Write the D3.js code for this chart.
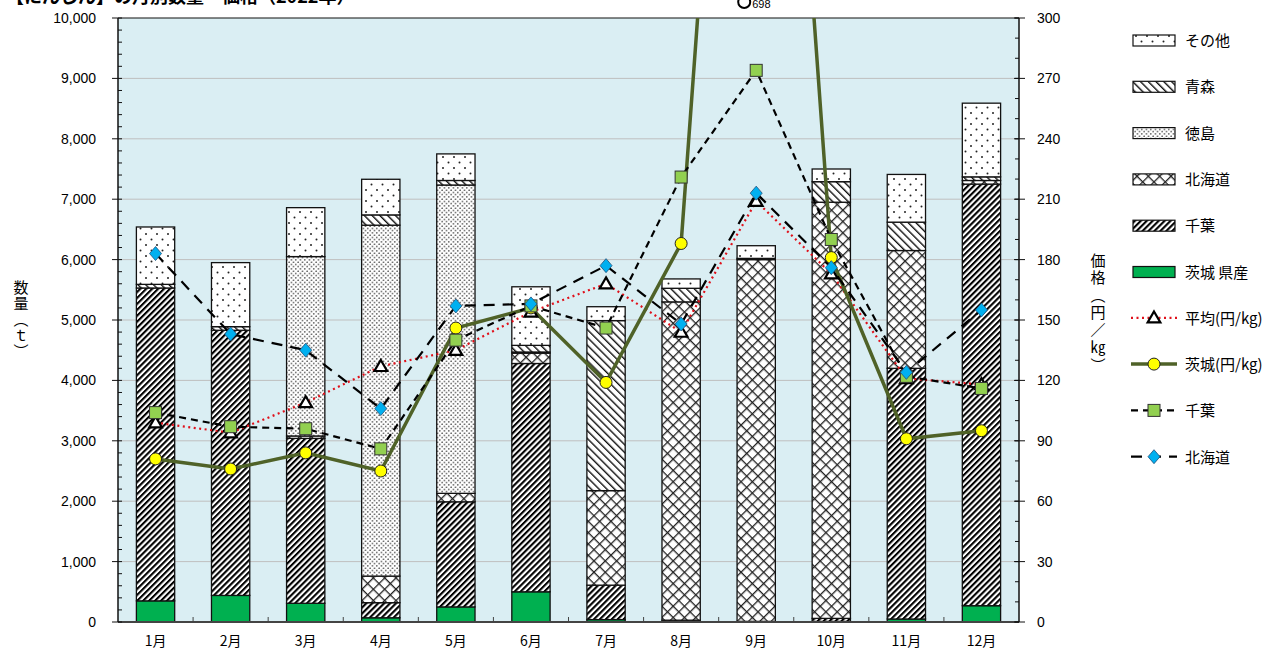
<!DOCTYPE html>
<html><head><meta charset="utf-8">
<script src="https://cdn.jsdelivr.net/npm/d3@7"></script>
<style>body{margin:0;background:#fff}svg{display:block}</style>
</head><body>
<svg id="c" width="1278" height="653"></svg>
<script>
const months = ["1月","2月","3月","4月","5月","6月","7月","8月","9月","10月","11月","12月"];
const ibarakiQty  = [350,440,310,70,250,500,40,0,0,10,50,270];
const chibaQty    = [5180,4390,2730,250,1740,3780,570,30,10,50,4150,6980];
const hokkaidoQty = [0,0,40,440,140,170,1565,5270,5990,6890,1950,60];
const tokushimaQty= [0,0,2970,5810,5105,20,0,0,0,0,0,0];
const aomoriQty   = [60,60,0,170,75,110,2815,225,20,340,470,60];
const otherQty    = [950,1060,810,590,440,970,230,155,210,210,790,1220];

const avgPrice      = [99,94,109,127,135,154,168,144,209,173,121,118];
const ibarakiPrice  = [81,76,84,75,146,156,119,188,698,181,91,95];
const chibaPrice    = [104,97,96,86,140,157,146,221,274,190,122,116];
const hokkaidoPrice = [183,143,135,106,157,158,177,148,213,176,124,155];

const leftTicks = [0,1000,2000,3000,4000,5000,6000,7000,8000,9000,10000];
const rightTicks = [0,30,60,90,120,150,180,210,240,270,300];

const svg = d3.select("#c");
const L=118,R=1019,T=18,B=622;
const x = d3.scaleBand().domain(months).range([L,R]);
const y = d3.scaleLinear().domain([0,10000]).range([B,T]);
const y2 = d3.scaleLinear().domain([0,300]).range([B,T]);
const numFont = "'Liberation Sans', Arial, sans-serif";
const jpFont = "'Noto Sans CJK JP', sans-serif";

// patterns
const defs = svg.append("defs");
function pat(id,w,h,rot,fn){
  const p = defs.append("pattern").attr("id",id).attr("patternUnits","userSpaceOnUse")
    .attr("width",w).attr("height",h);
  if(rot) p.attr("patternTransform",`rotate(${rot})`);
  p.append("rect").attr("width",w).attr("height",h).attr("fill","#fff");
  fn(p);
}
pat("pOther",11,11,0,p=>{
  p.append("circle").attr("cx",3).attr("cy",3).attr("r",1).attr("fill","#222");
  p.append("circle").attr("cx",8.5).attr("cy",8.5).attr("r",1).attr("fill","#222");
});
pat("pAomori",5.5,5.5,-45,p=>{
  p.append("rect").attr("x",0).attr("y",0).attr("width",1.4).attr("height",5.5).attr("fill","#111");
});
pat("pToku",4.5,4.5,0,p=>{
  p.append("circle").attr("cx",1.1).attr("cy",1.1).attr("r",0.75).attr("fill","#222");
  p.append("circle").attr("cx",3.35).attr("cy",3.35).attr("r",0.75).attr("fill","#222");
});
pat("pHokkaido",8,8,45,p=>{
  p.append("rect").attr("x",0).attr("y",0).attr("width",1.3).attr("height",8).attr("fill","#222");
  p.append("rect").attr("x",0).attr("y",0).attr("width",8).attr("height",1.3).attr("fill","#222");
});
pat("pChiba",4.2,4.2,45,p=>{
  p.append("rect").attr("x",0).attr("y",0).attr("width",2.1).attr("height",4.2).attr("fill","#000");
});
defs.append("clipPath").attr("id","plotClip").append("rect")
  .attr("x",L).attr("y",T).attr("width",R-L).attr("height",B-T);

// title (cut off at top)
svg.append("text").attr("x",6).attr("y",3).attr("font-family",jpFont).attr("font-size",18)
  .attr("font-weight","bold").text("【にんじん】の月別数量・価格（2022年）");

// background
svg.append("rect").attr("x",L).attr("y",T).attr("width",R-L).attr("height",B-T).attr("fill","#DAEEF3");
// gridlines
svg.append("g").selectAll("line").data(leftTicks.slice(1,-1)).join("line")
  .attr("x1",L).attr("x2",R).attr("y1",d=>y(d)).attr("y2",d=>y(d))
  .attr("stroke","#BFBFBF").attr("stroke-width",1);

// stacked bars
const keys = ["ibaraki","chiba","hokkaido","tokushima","aomori","other"];
const fills = {ibaraki:"#00B050",chiba:"url(#pChiba)",hokkaido:"url(#pHokkaido)",
  tokushima:"url(#pToku)",aomori:"url(#pAomori)",other:"url(#pOther)"};
const table = months.map((m,i)=>({month:m,ibaraki:ibarakiQty[i],chiba:chibaQty[i],
  hokkaido:hokkaidoQty[i],tokushima:tokushimaQty[i],aomori:aomoriQty[i],other:otherQty[i]}));
const stacked = d3.stack().keys(keys)(table);
const bw = x.bandwidth()*0.51;
const gBars = svg.append("g");
stacked.forEach(layer=>{
  gBars.selectAll(null).data(layer.filter(d=>d[1]-d[0]>0)).join("rect")
    .attr("x",d=>x(d.data.month)+x.bandwidth()/2-bw/2).attr("width",bw)
    .attr("y",d=>y(d[1])).attr("height",d=>y(d[0])-y(d[1]))
    .attr("fill",fills[layer.key]).attr("stroke","#111").attr("stroke-width",1.3);
});

// x-axis
svg.append("line").attr("x1",L).attr("x2",R).attr("y1",B).attr("y2",B).attr("stroke","#444").attr("stroke-width",2);
svg.append("g").selectAll("line").data(months.slice(1)).join("line")
  .attr("x1",d=>x(d)).attr("x2",d=>x(d)).attr("y1",B).attr("y2",B-5).attr("stroke","#444").attr("stroke-width",1);
svg.append("g").selectAll("text").data(months).join("text")
  .attr("x",d=>x(d)+x.bandwidth()/2).attr("y",646).attr("text-anchor","middle")
  .attr("font-family",jpFont).attr("font-size",14).text(d=>d);

// top border
svg.append("line").attr("x1",L).attr("x2",R).attr("y1",T).attr("y2",T).attr("stroke","#111").attr("stroke-width",1.2);

// left axis
const gl = svg.append("g");
gl.append("line").attr("x1",L).attr("x2",L).attr("y1",T).attr("y2",B).attr("stroke","#111").attr("stroke-width",1.5);
gl.selectAll(".mn").data(d3.range(0,10001,200)).join("line")
  .attr("x1",L).attr("x2",L+4).attr("y1",d=>y(d)).attr("y2",d=>y(d)).attr("stroke","#111");
gl.selectAll(".mj").data(leftTicks).join("line")
  .attr("x1",L-6).attr("x2",L).attr("y1",d=>y(d)).attr("y2",d=>y(d)).attr("stroke","#111");
gl.selectAll("text").data(leftTicks).join("text")
  .attr("x",96).attr("y",d=>y(d)+5).attr("text-anchor","end")
  .attr("font-family",numFont).attr("font-size",14).text(d=>d3.format(",")(d));

// right axis
const gr = svg.append("g");
gr.append("line").attr("x1",R).attr("x2",R).attr("y1",T).attr("y2",B).attr("stroke","#111").attr("stroke-width",1.5);
gr.selectAll(".mn").data(d3.range(0,301,10)).join("line")
  .attr("x1",R-4).attr("x2",R).attr("y1",d=>y2(d)).attr("y2",d=>y2(d)).attr("stroke","#111");
gr.selectAll(".mj").data(rightTicks).join("line")
  .attr("x1",R-5).attr("x2",R+6).attr("y1",d=>y2(d)).attr("y2",d=>y2(d)).attr("stroke","#111");
gr.selectAll("text").data(rightTicks).join("text")
  .attr("x",1037).attr("y",d=>y2(d)+5).attr("text-anchor","start")
  .attr("font-family",numFont).attr("font-size",14).text(d=>d);

// axis titles (vertical)
svg.append("text").attr("x",21).attr("y",320).attr("text-anchor","middle")
  .attr("writing-mode","vertical-rl").style("text-orientation","mixed").style("letter-spacing","1px")
  .attr("font-family",jpFont).attr("font-size",15).text("数量（ｔ）");
svg.append("text").attr("x",1098).attr("y",314).attr("text-anchor","middle")
  .attr("writing-mode","vertical-rl").style("text-orientation","mixed").style("letter-spacing","2.5px")
  .attr("font-family",jpFont).attr("font-size",15).text("価格（円／㎏）");

// price lines
const cx = i=>x(months[i])+x.bandwidth()/2;
const lineGen = d3.line().x((d,i)=>cx(i)).y(d=>y2(d));
const gLines = svg.append("g").attr("clip-path","url(#plotClip)");
const series = [
  {name:"平均(円/kg)",data:avgPrice,stroke:"#E0101A",w:2.2,dash:"2,3.5",marker:"tri"},
  {name:"茨城(円/kg)",data:ibarakiPrice,stroke:"#4F6228",w:3.5,dash:null,marker:"circle"},
  {name:"千葉",data:chibaPrice,stroke:"#000",w:2.2,dash:"7,5",marker:"square"},
  {name:"北海道",data:hokkaidoPrice,stroke:"#000",w:2.2,dash:"11,8",marker:"diamond"}
];
function drawMarker(g,type,px,py){
  if(type==="tri"){
    g.append("path").attr("d",d3.symbol(d3.symbolTriangle,70)()).attr("transform",`translate(${px},${py+1})`)
      .attr("fill","#fff").attr("stroke","#000").attr("stroke-width",2.2);
  }else if(type==="circle"){
    g.append("circle").attr("cx",px).attr("cy",py).attr("r",6).attr("fill","#FFFF00").attr("stroke","#222").attr("stroke-width",1);
  }else if(type==="square"){
    g.append("rect").attr("x",px-6).attr("y",py-6).attr("width",12).attr("height",12)
      .attr("fill","#92D050").attr("stroke","#333").attr("stroke-width",1);
  }else{
    g.append("path").attr("d","M0,-7L6,0L0,7L-6,0Z").attr("transform",`translate(${px},${py})`)
      .attr("fill","#00B0F0").attr("stroke","#1F4E79").attr("stroke-width",0.8);
  }
}
series.forEach(s=>{
  gLines.append("path").datum(s.data).attr("d",lineGen).attr("fill","none")
    .attr("stroke",s.stroke).attr("stroke-width",s.w).attr("stroke-dasharray",s.dash);
});
series.forEach(s=>{
  s.data.forEach((v,i)=>{ if(v<=300) drawMarker(gLines,s.marker,cx(i),y2(v)); });
});
// off-scale label
const offIdx = ibarakiPrice.findIndex(v=>v>300);
svg.append("circle").attr("cx",cx(offIdx)-12).attr("cy",2).attr("r",6).attr("fill","#fff").attr("stroke","#000").attr("stroke-width",2);
svg.append("text").attr("x",cx(offIdx)-4).attr("y",8).attr("font-family",numFont).attr("font-size",11).text(ibarakiPrice[offIdx]);

// legend
const lg = svg.append("g");
const legBars = [["その他","url(#pOther)"],["青森","url(#pAomori)"],["徳島","url(#pToku)"],
  ["北海道","url(#pHokkaido)"],["千葉","url(#pChiba)"],["茨城 県産","#00B050"]];
const rowY = d3.range(10).map(i=>40+i*46.3);
legBars.forEach((d,i)=>{
  lg.append("rect").attr("x",1133).attr("y",rowY[i]-5).attr("width",42).attr("height",11)
    .attr("fill",d[1]).attr("stroke","#111").attr("stroke-width",1.2);
  lg.append("text").attr("x",1185).attr("y",rowY[i]+6).attr("font-family",jpFont).attr("font-size",15).text(d[0]);
});
series.forEach((s,j)=>{
  const yy = rowY[6+j];
  lg.append("line").attr("x1",1131).attr("x2",1177).attr("y1",yy).attr("y2",yy)
    .attr("stroke",s.stroke).attr("stroke-width",s.w).attr("stroke-dasharray",s.dash);
  drawMarker(lg,s.marker,1154,yy);
  lg.append("text").attr("x",1185).attr("y",yy+6).attr("font-family",jpFont).attr("font-size",15).text(s.name);
});
</script>
</body></html>
